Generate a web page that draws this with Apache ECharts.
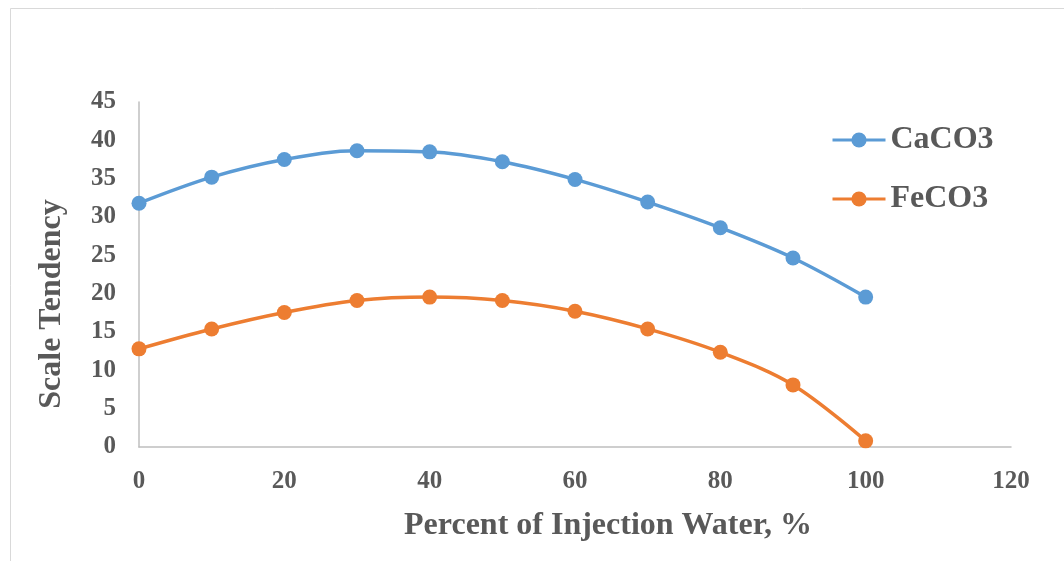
<!DOCTYPE html>
<html>
<head>
<meta charset="utf-8">
<script src="https://cdn.jsdelivr.net/npm/echarts@6/dist/echarts.min.js"></script>
<style>
  html, body { margin: 0; padding: 0; background: #ffffff; }
  #chart { width: 1064px; height: 561px; }
</style>
</head>
<body>
<div id="chart"></div>
<script>
// Percent of injection water in the mix
const injectionPercent = [0, 10, 20, 30, 40, 50, 60, 70, 80, 90, 100];
// Scale tendency for each mineral
const caco3 = [31.8, 35.2, 37.5, 38.65, 38.5, 37.2, 34.9, 31.95, 28.6, 24.65, 19.55];
const feco3 = [12.8, 15.4, 17.55, 19.1, 19.55, 19.1, 17.7, 15.4, 12.35, 8.1, 0.8];
const seriesNames = ['CaCO3', 'FeCO3'];

const FONT = '"Liberation Serif", "Times New Roman", serif';
const TEXT = '#595959';

const toPairs = (vals) => injectionPercent.map((x, i) => [x, vals[i]]);

const chart = echarts.init(document.getElementById('chart'));
chart.setOption({
  animation: false,
  backgroundColor: '#ffffff',
  grid: { left: 139, right: 53, top: 102, bottom: 114, containLabel: false },
  graphic: [
    {
      type: 'rect', left: 8, top: 6, silent: true,
      shape: { width: 1100, height: 600 },
      style: { fill: 'none', stroke: '#d9d9d9', lineWidth: 1 }
    },
    {
      type: 'text', silent: true,
      x: 608, y: 526,
      style: {
        text: 'Percent of Injection Water, %',
        x: 0, y: 0, align: 'center', verticalAlign: 'middle',
        font: 'bold 32px ' + FONT, fill: TEXT
      }
    },
    {
      type: 'text', silent: true,
      x: 52, y: 304, rotation: Math.PI / 2,
      style: {
        text: 'Scale Tendency',
        x: 0, y: 0, align: 'center', verticalAlign: 'middle',
        font: 'bold 32px ' + FONT, fill: TEXT
      }
    }
  ],
  legend: {
    orient: 'vertical',
    left: 831, top: 124, padding: 0,
    itemWidth: 53, itemHeight: 19, itemGap: 27,
    lineStyle: { width: 3 },
    textStyle: { fontFamily: FONT, fontWeight: 'bold', fontSize: 32, color: TEXT },
    data: seriesNames
  },
  xAxis: {
    type: 'value', min: 0, max: 120, interval: 20,
    axisLine: { show: true, lineStyle: { color: '#bfbfbf', width: 1.5 } },
    axisTick: { show: false },
    splitLine: { show: false },
    axisLabel: { margin: 22, fontFamily: FONT, fontWeight: 'bold', fontSize: 25, color: TEXT }
  },
  yAxis: {
    type: 'value', min: 0, max: 45, interval: 5,
    axisLine: { show: true, lineStyle: { color: '#bfbfbf', width: 1.5 } },
    axisTick: { show: false },
    splitLine: { show: false },
    axisLabel: { margin: 23, padding: [4, 0, 0, 0], fontFamily: FONT, fontWeight: 'bold', fontSize: 25, color: TEXT }
  },
  series: [
    {
      name: seriesNames[0], type: 'line', smooth: 0.35,
      data: toPairs(caco3),
      symbol: 'circle', symbolSize: 15,
      lineStyle: { color: '#5b9bd5', width: 3.5 },
      itemStyle: { color: '#5b9bd5' }
    },
    {
      name: seriesNames[1], type: 'line', smooth: 0.35,
      data: toPairs(feco3),
      symbol: 'circle', symbolSize: 15,
      lineStyle: { color: '#ed7d31', width: 3.5 },
      itemStyle: { color: '#ed7d31' }
    }
  ]
});
</script>
</body>
</html>
